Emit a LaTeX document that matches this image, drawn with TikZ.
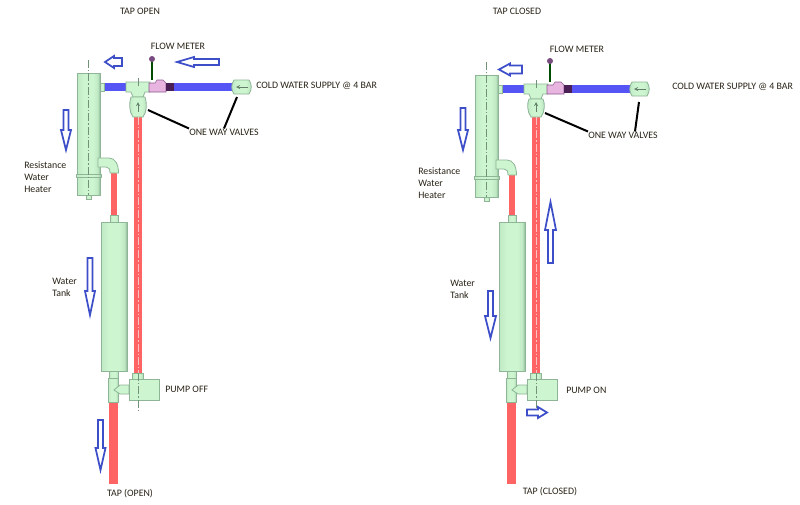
\documentclass[tikz,border=0pt]{standalone}
\usepackage{fontspec}
\setmainfont{Carlito}
\definecolor{gA}{HTML}{BFE8C4}
\definecolor{gB}{HTML}{CDF5D0}
\definecolor{gC}{HTML}{8FB898}
\definecolor{gE}{HTML}{8DB596}
\definecolor{wblue}{HTML}{5555F5}
\definecolor{wred}{HTML}{FF6464}
\definecolor{arr}{HTML}{3D4FC8}
\definecolor{pinkm}{HTML}{E8B4E0}
\definecolor{darkm}{HTML}{4A1F55}
\definecolor{txt}{HTML}{2A2418}
\pgfdeclarehorizontalshading{cyl}{100bp}{color(0bp)=(gA); color(25bp)=(gA); color(40bp)=(gB); color(60bp)=(gB); color(70bp)=(gA); color(75bp)=(gC); color(100bp)=(gC)}
\tikzset{
  part/.style={draw=gE,line width=0.6pt,shading=cyl},
  flat/.style={draw=gE,line width=0.6pt,fill=gB},
  hpart/.style={draw=gE,line width=0.6pt,fill=gB},
  flow/.style={draw=arr,line width=1.3pt,fill=white,line join=miter},
  cen/.style={draw=gE!80!black,line width=0.3pt,dash pattern=on 6pt off 1.5pt on 1pt off 1.5pt},
  cenred/.style={draw=white,opacity=0.6,line width=0.4pt,dash pattern=on 6pt off 1.5pt on 1pt off 1.5pt},
  lead/.style={draw=black,line width=1.5pt},
  lab/.style={font=\fontsize{7.4}{8}\selectfont,text=txt,inner sep=0pt,anchor=west},
  labc/.style={lab,anchor=center},
  multi/.style={lab,align=left,font=\fontsize{7.4}{9.2}\selectfont},
}
\newcommand{\varr}[6]{\draw[flow] (#1-#4,#2) -- (#1+#4,#2) -- (#1+#4,#3-#6) -- (#1+#5,#3-#6) -- (#1,#3) -- (#1-#5,#3-#6) -- (#1-#4,#3-#6) -- cycle;}
\newcommand{\harr}[6]{\draw[flow] (#2,#1-#4) -- (#2,#1+#4) -- (#3-#6,#1+#4) -- (#3-#6,#1+#5) -- (#3,#1) -- (#3-#6,#1-#5) -- (#3-#6,#1-#4) -- cycle;}
\newcommand{\rig}[2]{%
  \begin{scope}[shift={(#1,0)}]
  \fill[wred] (134,115) rectangle (142,376);
  \fill[wred] (111,171+#2) rectangle (117,216);
  \fill[wred] (109,402) rectangle (118,484);
  \fill[wblue] (100,83+#2) rectangle (233,91+#2);
  \path[part] (77,73+#2) rectangle (100,195+#2);
  \path[part] (76,174+#2) rectangle (101,177+#2);
  \path[part] (86,195+#2) rectangle (91,199+#2);
  \path[part] (100,83+#2) rectangle (104,91+#2);
  \draw[cen] (88,60+#2) -- (88,195+#2);
  \path[hpart] (98,158+#2) -- (109,158+#2) .. controls (115,158+#2) and (118.5,164+#2) .. (118.5,173+#2) -- (110,173+#2) .. controls (110,169+#2) and (109,167+#2) .. (106,167+#2) -- (98,167+#2) -- cycle;
  \path[part] (133,90+#2) rectangle (143,99+#2);
  \path[hpart] (126,82+#2) -- (150,82+#2) -- (150,92+#2) -- (145,92+#2) -- (143,97+#2) -- (133,97+#2) -- (131,92+#2) -- (126,92+#2) -- cycle;
  \path[part] (131,97+#2) .. controls (129,103) and (129,112) .. (133,117) -- (143,117) .. controls (147,112) and (147,103) .. (145,97+#2) -- cycle;
  \draw[gE!70!black,line width=0.4pt,-stealth] (138,112) -- (138,102);
  \draw[cen] (138,78+#2) -- (138,88+#2);
  \draw[black!70!green,line width=1pt] (152,61+#2) -- (152,80+#2);
  \fill[darkm!70!pinkm] (152,59+#2) circle (3);
  \path[draw=darkm!60!pinkm,line width=0.4pt,fill=pinkm] (149,83+#2) -- (155,83+#2) -- (157,80+#2) -- (163,80+#2) -- (166,83+#2) -- (166,92+#2) -- (149,92+#2) -- cycle;
  \fill[darkm] (166,83+#2) rectangle (174,91+#2);
  \path[part] (234,80+#2) -- (249,80+#2) .. controls (252,84+#2) and (252,90+#2) .. (249,94+#2) -- (234,94+#2) .. controls (231,90+#2) and (231,84+#2) .. (234,80+#2) -- cycle;
  \draw[gE!70!black,line width=0.4pt,-stealth] (248,87+#2) -- (236,87+#2);
  \path[part] (110,215) rectangle (118,223);
  \path[part] (101,222) rectangle (127,371);
  \path[part] (109,371) rectangle (118,379);
  \path[part] (108,378) rectangle (118,402);
  \path[hpart] (129,385) -- (120,385) -- (114,390) -- (120,394) -- (129,394) -- cycle;
  \path[part] (132,373) rectangle (143,380);
  \path[flat] (129,379) rectangle (159,400);
  \draw[cenred] (138,117) -- (138,373);
  \draw[cen] (138,373) -- (138,412);
  \end{scope}%
}
\begin{document}
\begin{tikzpicture}[x=0.75pt,y=-0.75pt]
\useasboundingbox[fill=white] (0,0) rectangle (800,504);
\rig{0}{0}
\rig{398}{2}
\node[labc] (titleL) at (140,11) {TAP OPEN};
\node[labc] (fmL) at (178,46) {FLOW METER};
\node[lab] (coldL) at (256,86) {COLD WATER SUPPLY @ 4 BAR};
\node[lab] (owL) at (189,132) {ONE WAY VALVES};
\node[multi] (heatL) at (24,177) {Resistance\\Water\\Heater};
\node[multi] (tankL) at (52,287) {Water\\Tank};
\node[lab] (pumpL) at (165,389) {PUMP OFF};
\node[labc] (tapL) at (130,494) {TAP (OPEN)};
\node[labc] (titleR) at (517,11) {TAP CLOSED};
\node[labc] (fmR) at (577,49) {FLOW METER};
\node[lab] (coldR) at (672,87) {COLD WATER SUPPLY @ 4 BAR};
\node[lab] (owR) at (588,135) {ONE WAY VALVES};
\node[multi] (heatR) at (418,183) {Resistance\\Water\\Heater};
\node[multi] (tankR) at (450,289) {Water\\Tank};
\node[lab] (pumpR) at (566,390) {PUMP ON};
\node[labc] (tapR) at (550,492) {TAP (CLOSED)};
\coordinate (vaL) at (148,110);
\coordinate (vbL) at (237,97);
\coordinate (vaR) at (545,113);
\coordinate (vbR) at (639,102);
\draw[lead] (owL.north west) -- (vaL);
\draw[lead] (owL.north) -- (vbL);
\draw[lead] (owR.north west) -- (vaR);
\draw[lead] ([xshift=9pt]owR.north) -- (vbR);
\harr{62}{122}{105}{4}{6}{-9}
\harr{62}{219}{177}{3}{5}{-17}
\varr{66}{110}{150}{2.5}{5}{20}
\varr{90}{258}{315}{2.5}{5}{24}
\varr{100.5}{420}{470}{2.5}{5}{22}
\harr{69.5}{522}{499}{4}{6}{-11}
\varr{463}{108}{150}{2.5}{5}{20}
\varr{550.5}{263}{202}{2.5}{5.5}{-28}
\varr{490.5}{291}{338}{2.5}{5.5}{22}
\harr{412.5}{527}{547}{3}{5.5}{9}
\end{tikzpicture}
\end{document}
